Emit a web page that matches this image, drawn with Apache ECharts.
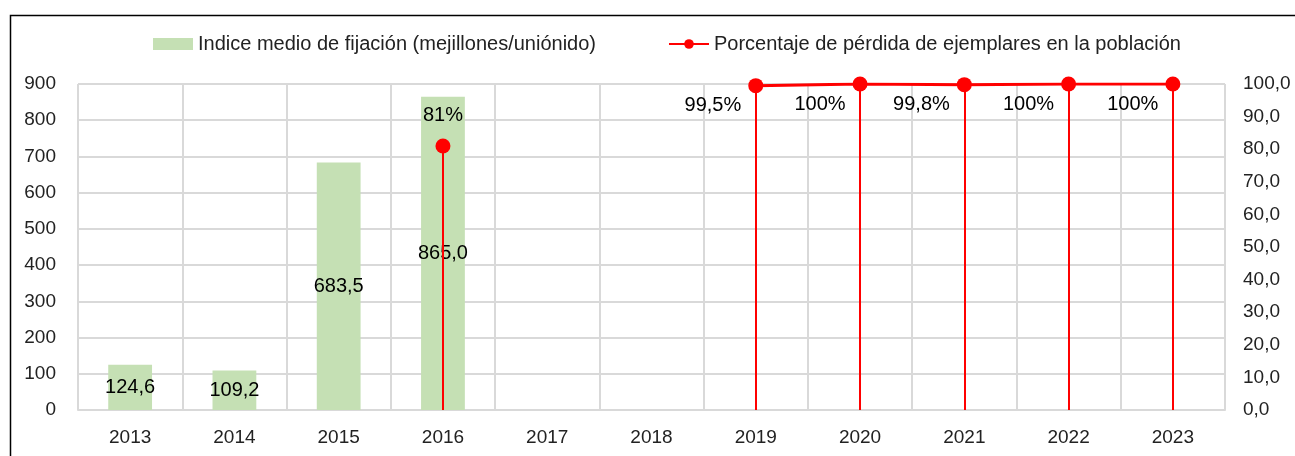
<!DOCTYPE html>
<html>
<head>
<meta charset="utf-8">
<script src="https://cdn.jsdelivr.net/npm/echarts@6/dist/echarts.min.js"></script>
<style>
  html, body { margin: 0; padding: 0; background: #fff; }
  #main { width: 1295px; height: 456px; }
</style>
</head>
<body>
<div id="main"></div>
<script>
var years = ['2013', '2014', '2015', '2016', '2017', '2018', '2019', '2020', '2021', '2022', '2023'];
var fijacion = [124.6, 109.2, 683.5, 865.0, '-', '-', '-', '-', '-', '-', '-'];
var perdida = ['-', '-', '-', 81, '-', '-', 99.5, 100, 99.8, 100, 100];
var perdidaLabels = ['', '', '', '81%', '', '', '99,5%', '100%', '99,8%', '100%', '100%'];

var FONT = 'Liberation Sans';
var TXT = '#222';

// drop lines from each point down to the axis
var drops = [];
for (var i = 0; i < years.length; i++) {
    if (perdida[i] !== '-') {
        drops.push([{coord: [years[i], perdida[i]]}, {coord: [years[i], 0]}]);
    }
}

var lineData = perdida.map(function (v, i) {
    if (v === '-') return v;
    var item = {value: v};
    if (i === 3) {
        item.label = {position: 'top', distance: 13, offset: [0, 0]};
    }
    return item;
});

var myChart = echarts.init(document.getElementById('main'));
var option = {
    animation: false,
    textStyle: {fontFamily: FONT},
    graphic: [{
        type: 'rect',
        shape: {x: 10.5, y: 15.5, width: 1400, height: 500},
        style: {fill: 'none', stroke: '#000', lineWidth: 1.5},
        silent: true
    }],
    legend: {
        top: 29,
        left: 148,
        itemGap: 72,
        itemWidth: 40,
        itemHeight: 12,
        textStyle: {fontSize: 20, color: TXT, fontFamily: FONT},
        data: [
            {name: 'Indice medio de fijación (mejillones/uniónido)', icon: 'rect'},
            {name: 'Porcentaje de pérdida de ejemplares en la población'}
        ]
    },
    grid: {left: 78, right: 70, top: 84, bottom: 46},
    xAxis: {
        type: 'category',
        data: years,
        boundaryGap: true,
        axisLine: {lineStyle: {color: '#d9d9d9', width: 2}},
        axisTick: {show: false},
        axisLabel: {fontSize: 19, color: TXT, margin: 18},
        splitLine: {show: true, lineStyle: {color: '#d9d9d9', width: 2}}
    },
    yAxis: [{
        type: 'value',
        min: 0,
        max: 900,
        interval: 100,
        axisLine: {show: false},
        axisTick: {show: false},
        axisLabel: {fontSize: 19, color: TXT, margin: 22},
        splitLine: {lineStyle: {color: '#d9d9d9', width: 2}}
    }, {
        type: 'value',
        min: 0,
        max: 100,
        interval: 10,
        axisLine: {show: false},
        axisTick: {show: false},
        splitLine: {show: false},
        axisLabel: {
            fontSize: 19, color: TXT, margin: 18,
            formatter: function (v) { return v.toFixed(1).replace('.', ','); }
        }
    }],
    series: [{
        name: 'Indice medio de fijación (mejillones/uniónido)',
        type: 'bar',
        data: fijacion,
        barWidth: '42%',
        itemStyle: {color: '#c5e0b4'},
        label: {
            show: true,
            position: 'inside',
            fontSize: 20,
            color: '#000',
            formatter: function (p) { return p.value.toFixed(1).replace('.', ','); }
        },
        z: 2
    }, {
        name: 'Porcentaje de pérdida de ejemplares en la población',
        type: 'line',
        yAxisIndex: 1,
        data: lineData,
        connectNulls: false,
        symbol: 'circle',
        symbolSize: 15,
        itemStyle: {color: '#ff0000'},
        lineStyle: {color: '#ff0000', width: 3},
        label: {
            show: true,
            position: 'left',
            offset: [-2, 20],
            fontSize: 20,
            color: '#000',
            formatter: function (p) { return perdidaLabels[p.dataIndex]; }
        },
        markLine: {
            silent: true,
            symbol: ['none', 'none'],
            label: {show: false},
            lineStyle: {color: '#ff0000', width: 2, type: 'solid'},
            data: drops
        },
        z: 5
    }]
};
myChart.setOption(option);
</script>
</body>
</html>
